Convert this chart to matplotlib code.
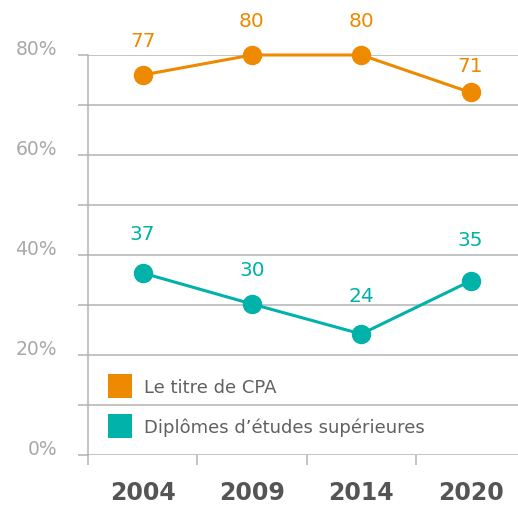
import matplotlib
matplotlib.use("Agg")
import matplotlib.pyplot as plt
from matplotlib.patches import Rectangle
from matplotlib.ticker import FixedLocator

plt.rcParams['font.family'] = ['DejaVu Sans']

# données
years = ['2004', '2009', '2014', '2020']
cpa_values = [76, 80, 80, 72.5]          # position
cpa_labels = ['77', '80', '80', '71']
etudes_values = [36.4, 30.2, 24.2, 34.8]
etudes_labels = ['37', '30', '24', '35']
series_names = ['Le titre de CPA', 'Diplômes d\u2019études supérieures']
y_ticks = [0, 10, 20, 30, 40, 50, 60, 70, 80]
y_ticklabels = ['0%', '', '20%', '', '40%', '', '60%', '', '80%']

orange = '#EE8A00'
teal = '#00B2A9'
grid_col = '#B3B3B3'

W, H = 518, 508
fig = plt.figure(figsize=(W / 100, H / 100), dpi=100)
ax = fig.add_axes([88 / W, 1 - 455 / H, (W - 88) / W, 400 / H])

x = list(range(len(years)))
ax.plot(x, cpa_values, color=orange, lw=2.2, marker='o', ms=13, clip_on=False, zorder=3)
ax.plot(x, etudes_values, color=teal, lw=2.2, marker='o', ms=13, clip_on=False, zorder=3)

# étiquettes de valeurs (décalage en points au-dessus du marqueur)
cpa_off = [24, 24, 24, 19]
etu_off = [28, 24, 27, 29]
for xi, v, lab, off in zip(x, cpa_values, cpa_labels, cpa_off):
    ax.annotate(lab, (xi, v), xytext=(0, off), textcoords='offset points',
                ha='center', va='center', color=orange, fontsize=14.5, annotation_clip=False)
for xi, v, lab, off in zip(x, etudes_values, etudes_labels, etu_off):
    ax.annotate(lab, (xi, v), xytext=(0, off), textcoords='offset points',
                ha='center', va='center', color=teal, fontsize=14.5, annotation_clip=False)

ax.set_ylim(0, 80)
ax.set_xlim(-0.5, -0.5 + (W - 88) / 109.3)

ax.set_yticks(y_ticks)
ax.set_yticklabels(y_ticklabels)
for lbl in ax.get_yticklabels():
    lbl.set_verticalalignment('baseline')
ax.tick_params(axis='y', length=7.2, width=1.1, color=grid_col, pad=15,
               labelsize=13.5, labelcolor='#A8A8A8')
ax.grid(axis='y', color=grid_col, lw=1.1)

ax.set_xticks(x)
ax.set_xticklabels(years)
ax.xaxis.set_minor_locator(FixedLocator([-0.5, 0.5, 1.5, 2.5]))
ax.tick_params(axis='x', which='major', length=0, pad=19, labelsize=17, labelcolor='#555555')
ax.tick_params(axis='x', which='minor', length=7.2, width=1.1, color=grid_col)
for lbl in ax.get_xticklabels():
    lbl.set_fontweight('semibold')

for s in ['top', 'right', 'bottom']:
    ax.spines[s].set_visible(False)
ax.spines['left'].set_color(grid_col)
ax.spines['left'].set_linewidth(1.1)
ax.set_axisbelow(True)

# légende
for i, (name, col) in enumerate(zip(series_names, [orange, teal])):
    top = 374 + i * 39.5
    fig.add_artist(Rectangle((108 / W, 1 - (top + 24) / H), 24 / W, 24 / H,
                             transform=fig.transFigure, color=col, lw=0))
    fig.text(144 / W, 1 - (top + 12) / H, name, transform=fig.transFigure,
             ha='left', va='center_baseline', fontsize=13, color='#606060')

fig.savefig('out.png', dpi=100)
